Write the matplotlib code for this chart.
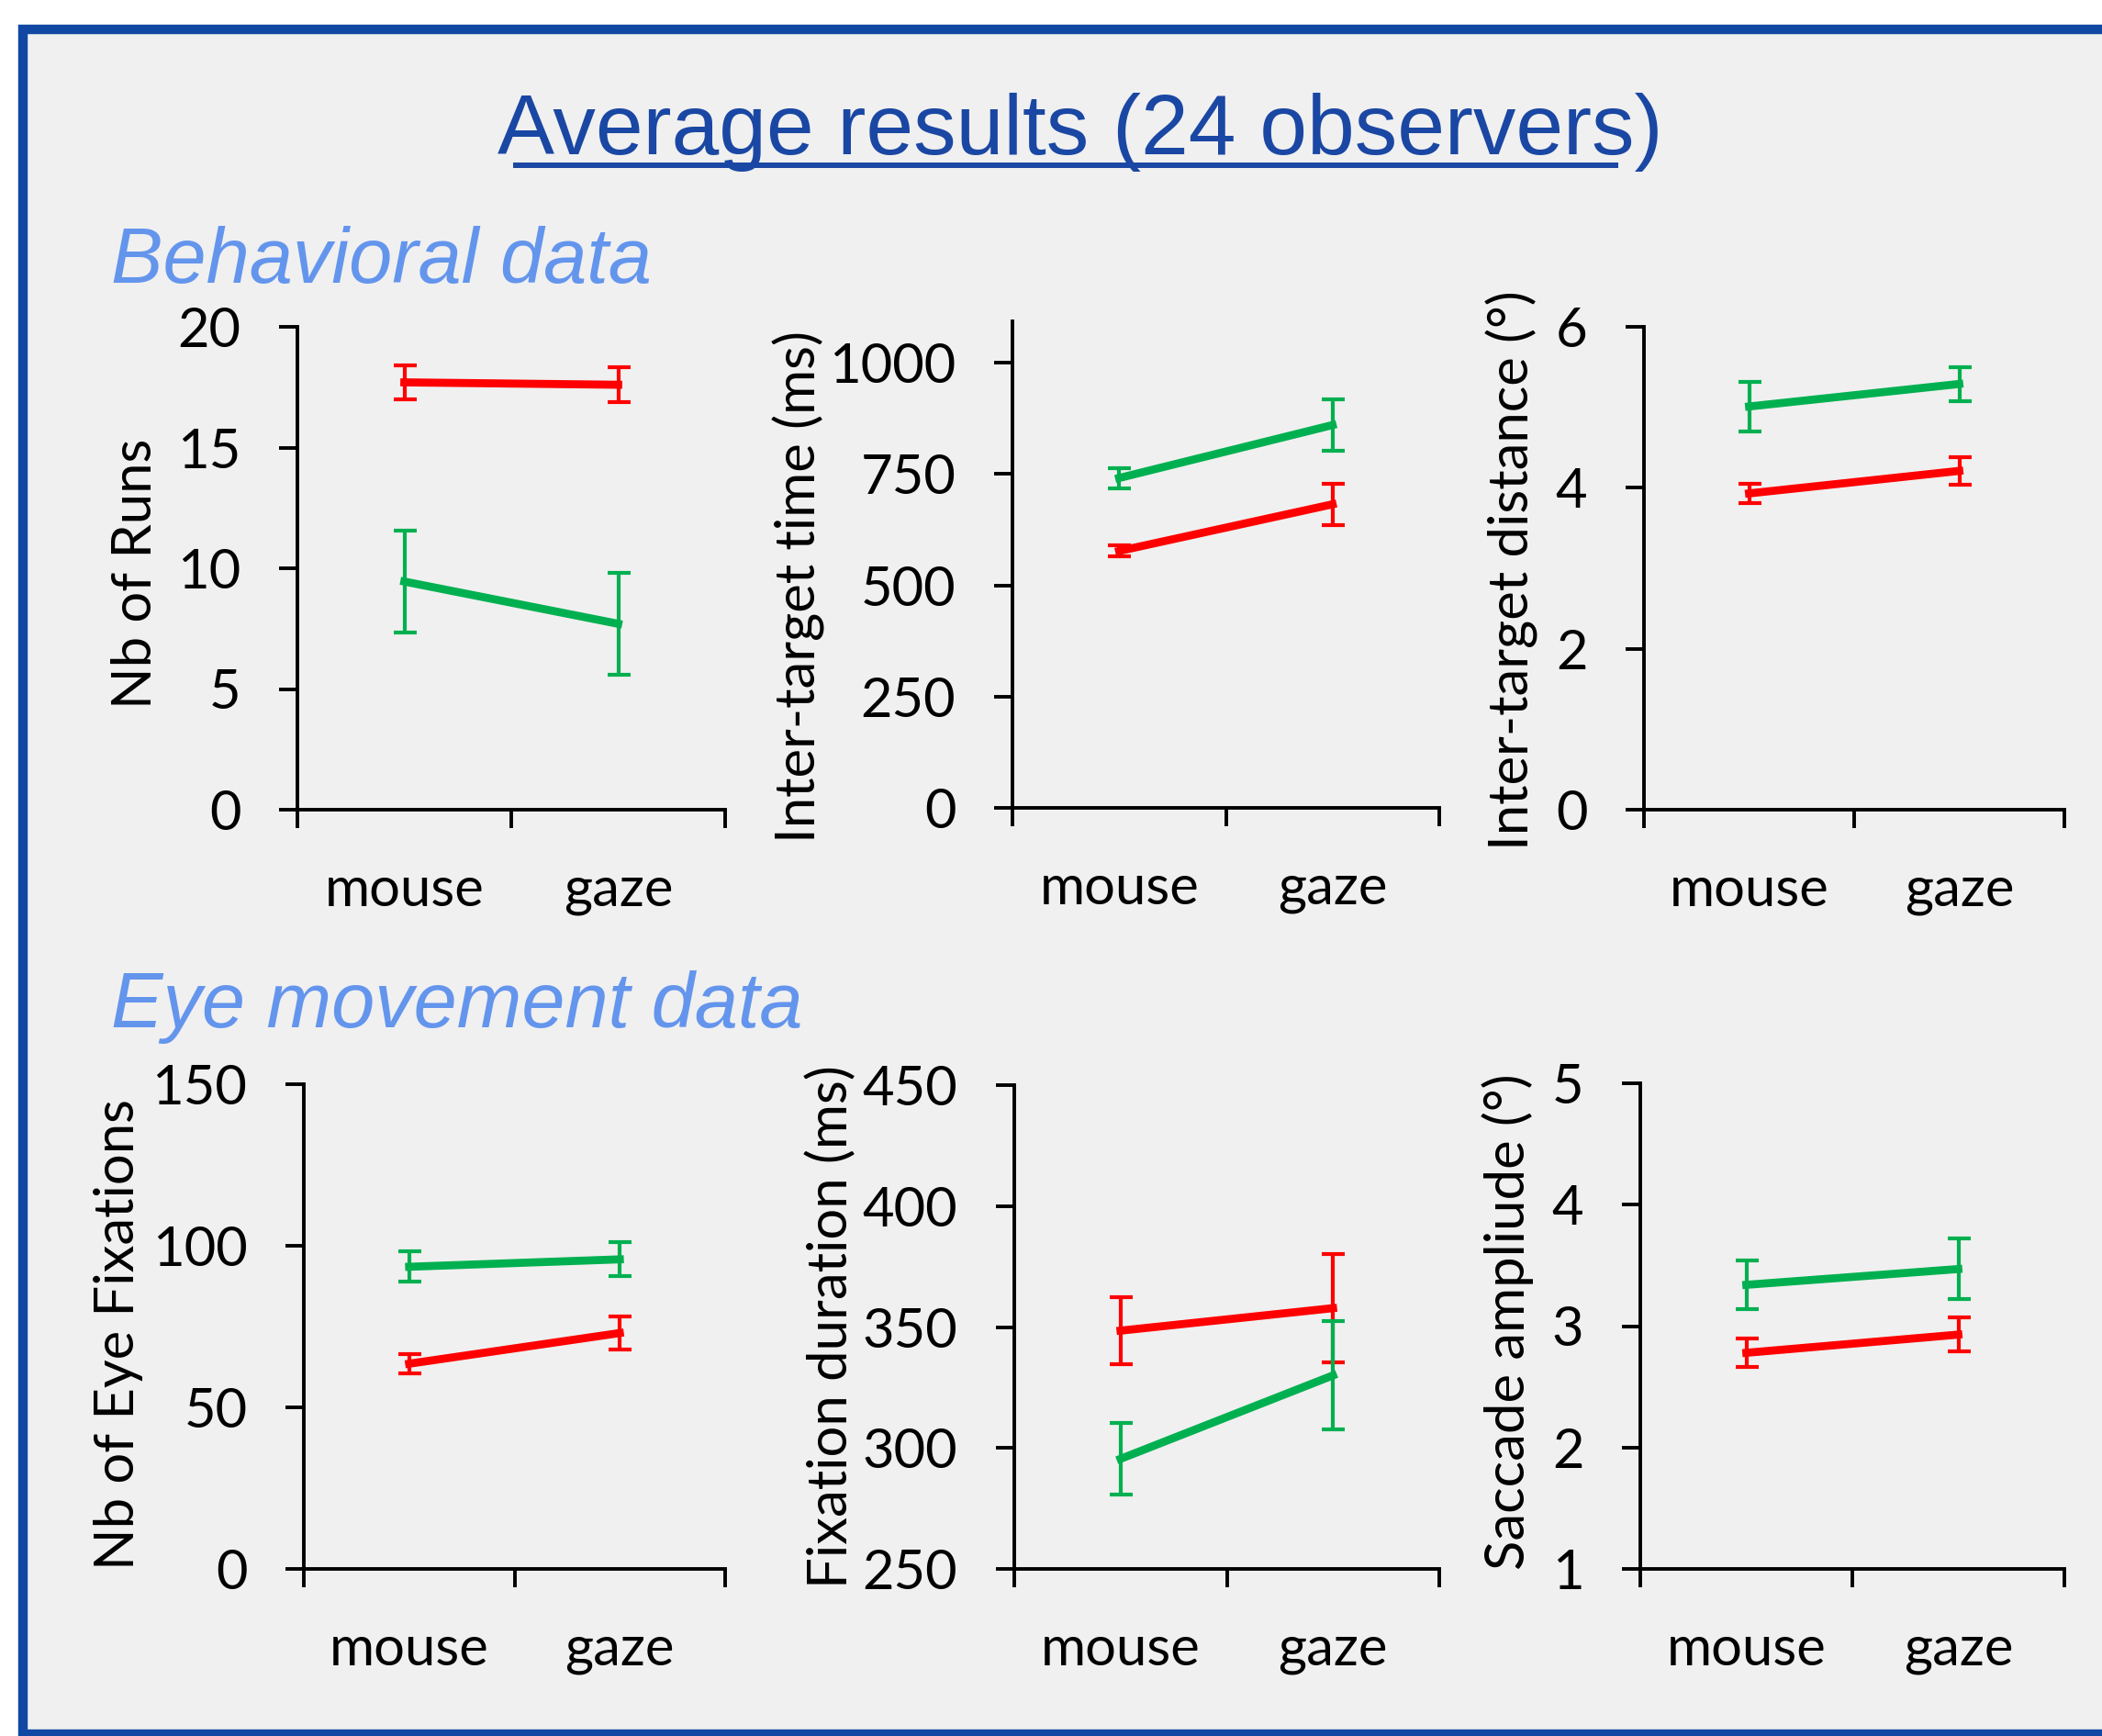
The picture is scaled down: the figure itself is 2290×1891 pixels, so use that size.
import matplotlib
matplotlib.use("Agg")
import matplotlib.pyplot as plt
from matplotlib.patches import Rectangle
from matplotlib.lines import Line2D

# values (mouse, gaze)
categories = ['mouse', 'gaze']

runs_red = [17.7, 17.6]
runs_red_err = [0.7, 0.72]
runs_green = [9.45, 7.7]
runs_green_err = [2.1, 2.1]

time_red = [577, 682]
time_red_err = [12, 47]
time_green = [741, 860]
time_green_err = [23, 57]

dist_red = [3.93, 4.21]
dist_red_err = [0.12, 0.17]
dist_green = [5.01, 5.29]
dist_green_err = [0.31, 0.21]

fix_red = [63.5, 73.0]
fix_red_err = [3.0, 5.1]
fix_green = [93.5, 95.8]
fix_green_err = [4.7, 5.3]

dur_red = [348.5, 357.8]
dur_red_err = [14, 22.5]
dur_green = [295.5, 330.0]
dur_green_err = [14.7, 22.5]

amp_red = [2.78, 2.93]
amp_red_err = [0.12, 0.14]
amp_green = [3.34, 3.47]
amp_green_err = [0.2, 0.25]

RED = '#ff0000'
GREEN = '#00b050'
W, H = 2290, 1891

fig = plt.figure(figsize=(W / 100, H / 100), dpi=100)
fig.patch.set_facecolor('white')

# blue frame with grey inside
frame = Rectangle((25 / W, 1 - 1889 / H), (2300 - 25) / W, (1889 - 32) / H,
                  transform=fig.transFigure, facecolor='#f0f0f0',
                  edgecolor='#1048a4', linewidth=7.5, zorder=0)
fig.add_artist(frame)

title_col = '#1a47a3'
fig.text(1177 / W, 1 - 168 / H, 'Average results (24 observers)', ha='center',
         va='baseline', fontsize=67, color=title_col, family='Liberation Sans')
fig.add_artist(Line2D([562 / W, 1760 / W], [1 - 180 / H, 1 - 180 / H],
                      transform=fig.transFigure, color=title_col, linewidth=4.3))

sec_col = '#6495ed'
fig.text(121 / W, 1 - 308 / H, 'Behavioral data', ha='left', va='baseline',
         fontsize=61, color=sec_col, style='italic', family='Liberation Sans')
fig.text(121 / W, 1 - 1119 / H, 'Eye movement data', ha='left', va='baseline',
         fontsize=61, color=sec_col, style='italic', family='Liberation Sans')

FONT = 'Lato'
FS = 43

panels = [
    # (left, right, top, bottom) px, ylim, yticks, ylabel, label centre, series
    ((324, 790, 356, 882), (0, 20), [0, 5, 10, 15, 20], 'Nb of Runs', (148, 625),
     [(runs_red, runs_red_err, RED), (runs_green, runs_green_err, GREEN)]),
    ((1103, 1568, 350, 880), (0, 1093), [0, 250, 500, 750, 1000], 'Inter-target time (ms)', (870, 639),
     [(time_red, time_red_err, RED), (time_green, time_green_err, GREEN)]),
    ((1791, 2249, 356, 882), (0, 6), [0, 2, 4, 6], 'Inter-target distance (°)', (1647, 621),
     [(dist_red, dist_red_err, RED), (dist_green, dist_green_err, GREEN)]),
    ((331, 790, 1181, 1709), (0, 150), [0, 50, 100, 150], 'Nb of Eye Fixations', (129, 1453),
     [(fix_red, fix_red_err, RED), (fix_green, fix_green_err, GREEN)]),
    ((1105, 1568, 1182, 1709), (250, 450), [250, 300, 350, 400, 450], 'Fixation duration (ms)', (905, 1445),
     [(dur_red, dur_red_err, RED), (dur_green, dur_green_err, GREEN)]),
    ((1787, 2249, 1180, 1709), (1, 5), [1, 2, 3, 4, 5], 'Saccade ampliude (°)', (1643, 1440),
     [(amp_red, amp_red_err, RED), (amp_green, amp_green_err, GREEN)]),
]

xpos = [0.5, 1.5]

for (l, r, t, b), ylim, yticks, ylabel, (lx, ly), series in panels:
    ax = fig.add_axes([l / W, 1 - b / H, (r - l) / W, (b - t) / H])
    ax.set_facecolor('none')
    for vals, errs, col in series:
        ax.errorbar(xpos, vals, yerr=errs, color=col, ecolor=col, linewidth=6.3,
                    elinewidth=3.0, capsize=9, capthick=3.0, clip_on=False)
    ax.set_xlim(0, 2)
    ax.set_ylim(*ylim)
    ax.set_yticks(yticks)
    ax.set_xticks([0, 1, 2])
    ax.set_xticklabels([])
    ax.set_xticks(xpos, categories, minor=True)
    for sp in ['top', 'right']:
        ax.spines[sp].set_visible(False)
    for sp in ['left', 'bottom']:
        ax.spines[sp].set_linewidth(2.8)
    ax.tick_params(axis='both', which='major', direction='out', length=14.4,
                   width=2.8, labelsize=FS, pad=30)
    ax.tick_params(axis='x', which='minor', length=0, labelsize=FS, pad=44)
    for lab in ax.get_yticklabels() + ax.get_xticklabels(minor=True):
        lab.set_family(FONT)
    ax.set_ylabel(ylabel, fontsize=FS, family=FONT, va='center', ha='center')
    ax.yaxis.set_label_coords((lx - l) / (r - l), (b - ly) / (b - t))

fig.savefig('out.png', dpi=100)
